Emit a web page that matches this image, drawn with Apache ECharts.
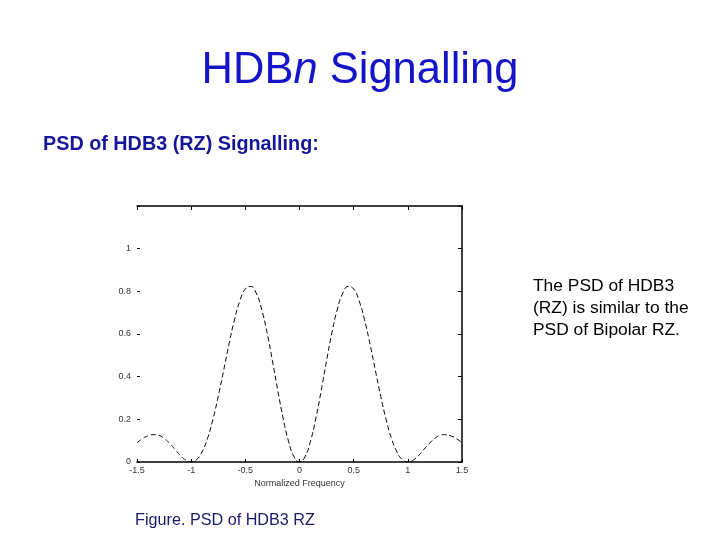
<!DOCTYPE html>
<html>
<head>
<meta charset="utf-8">
<script src="https://cdn.jsdelivr.net/npm/echarts@6/dist/echarts.min.js"></script>
<style>html,body{margin:0;padding:0;background:#fff;}#c{width:720px;height:540px;}</style>
</head>
<body>
<div id="c"></div>
<script>
// Normalized frequency samples
var freq = [-1.5,-1.45,-1.4,-1.35,-1.3,-1.25,-1.2,-1.15,-1.1,-1.05,-1.0,-0.95,-0.9,-0.85,-0.8,-0.75,-0.7,-0.65,-0.6,-0.55,-0.5,-0.45,-0.4,-0.35,-0.3,-0.25,-0.2,-0.15,-0.1,-0.05,0,
  0.05,0.1,0.15,0.2,0.25,0.3,0.35,0.4,0.45,0.5,0.55,0.6,0.65,0.7,0.75,0.8,0.85,0.9,0.95,1.0,1.05,1.1,1.15,1.2,1.25,1.3,1.35,1.4,1.45,1.5];
// PSD values
var psd = [0.090,0.109,0.122,0.128,0.125,0.111,0.088,0.060,0.031,0.009,0.0,0.011,0.047,0.109,0.198,0.308,0.430,0.554,0.667,0.756,0.811,0.823,0.792,0.717,0.608,0.475,0.334,0.202,0.095,0.024,0.0,
  0.024,0.095,0.202,0.334,0.475,0.608,0.717,0.792,0.823,0.811,0.756,0.667,0.554,0.430,0.308,0.198,0.109,0.047,0.011,0.0,0.009,0.031,0.060,0.088,0.111,0.125,0.128,0.122,0.109,0.090];
var xTicks = [-1.5,-1,-0.5,0,0.5,1,1.5];
var yTicks = [0,0.2,0.4,0.6,0.8,1];

var chart = echarts.init(document.getElementById('c'), null, {renderer:'canvas'});
var pts = freq.map(function(f,i){return [f, psd[i]];});
var tickFont = {fontFamily:'Liberation Sans, Arial, sans-serif', fontSize:9, color:'#333'};
chart.setOption({
  backgroundColor:'#ffffff',
  animation:false,
  title:[{
    text:'{a|HDB}{b|n}{a| Signalling}',
    left:'center', top:44,
    textStyle:{fontWeight:'normal', rich:{
      a:{fontFamily:'Liberation Sans, Arial, sans-serif', fontSize:43.5, fontWeight:'normal', color:'#1414c8'},
      b:{fontFamily:'Liberation Sans, Arial, sans-serif', fontSize:43.5, fontWeight:'normal', fontStyle:'italic', color:'#1414c8'}
    }}
  },{
    text:'PSD of HDB3 (RZ) Signalling:',
    left:38, top:130,
    textStyle:{fontFamily:'Liberation Sans, Arial, sans-serif', fontSize:19.8, fontWeight:'bold', color:'#16169a'}
  },{
    text:'The PSD of HDB3\n(RZ) is similar to the\nPSD of Bipolar RZ.',
    left:528, top:270,
    textStyle:{fontFamily:'Liberation Sans, Arial, sans-serif', fontSize:17.4, fontWeight:'normal', color:'#000', lineHeight:22}
  },{
    text:'Figure. PSD of HDB3 RZ',
    left:130, top:508,
    textStyle:{fontFamily:'Liberation Sans, Arial, sans-serif', fontSize:16.2, fontWeight:'normal', color:'#1a1a6a'}
  }],
  grid:{left:137, right:258, top:206, bottom:78, containLabel:false},
  xAxis:[{
    type:'value', min:-1.5, max:1.5, interval:0.5,
    name:'Normalized Frequency', nameLocation:'middle', nameGap:17,
    nameTextStyle:tickFont,
    axisLine:{show:true, onZero:false, lineStyle:{color:'#000', width:1.5}},
    axisTick:{show:true, inside:true, length:3, lineStyle:{color:'#000'}},
    axisLabel:Object.assign({margin:4, formatter:function(v){return xTicks.indexOf(v)>=0?String(v):'';}}, tickFont),
    splitLine:{show:false}
  },{
    type:'value', min:-1.5, max:1.5, interval:0.5, position:'top',
    axisLine:{show:true, onZero:false, lineStyle:{color:'#000', width:1.5}},
    axisTick:{show:true, inside:true, length:4, lineStyle:{color:'#000'}},
    axisLabel:{show:false}, splitLine:{show:false}
  }],
  yAxis:[{
    type:'value', min:0, max:1.2, interval:0.2,
    axisLine:{show:false, onZero:false},
    axisTick:{show:true, inside:true, length:3, lineStyle:{color:'#000'}},
    axisLabel:Object.assign({margin:6, formatter:function(v){var r=Math.round(v*10)/10; return yTicks.indexOf(r)>=0?String(r):'';}}, tickFont),
    splitLine:{show:false}
  },{
    type:'value', min:0, max:1.2, interval:0.2, position:'right',
    axisLine:{show:true, onZero:false, lineStyle:{color:'#000', width:1.5}},
    axisTick:{show:true, inside:true, length:4, lineStyle:{color:'#000'}},
    axisLabel:{show:false}, splitLine:{show:false}
  }],
  series:[{
    type:'line', xAxisIndex:0, yAxisIndex:0,
    data:pts, smooth:true, symbol:'none',
    lineStyle:{color:'#000', width:1, type:[5,3]}
  }]
});
</script>
</body>
</html>
